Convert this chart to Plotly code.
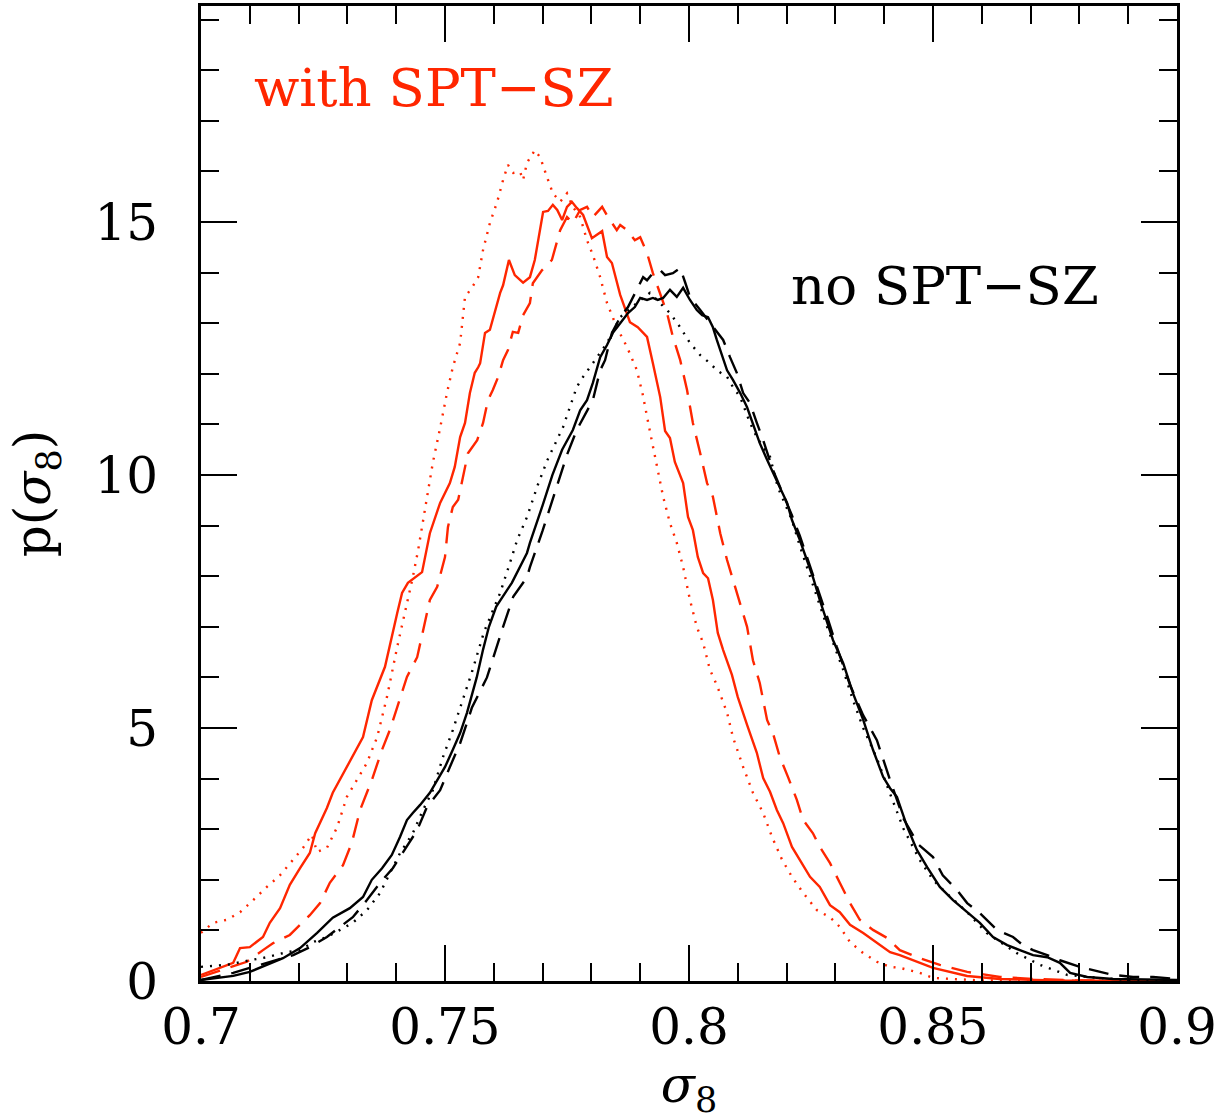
import plotly.graph_objects as go

# ---- data (sigma_8 vs posterior p(sigma_8)) ----
red_solid_x = [0.7000,0.7066,0.7080,0.7100,0.7127,0.7141,0.7162,0.7182,0.7203,0.7223,0.7234,0.7258,0.7270,0.7299,0.7320,0.7332,0.7350,0.7377,0.7402,0.7412,0.7424,0.7443,0.7453,0.7469,0.7490,0.7510,0.7520,0.7531,0.7541,0.7551,0.7561,0.7568,0.7572,0.7582,0.7592,0.7613,0.7619,0.7631,0.7643,0.7660,0.7674,0.7684,0.7695,0.7701,0.7711,0.7721,0.7730,0.7740,0.7750,0.7760,0.7770,0.7783,0.7801,0.7822,0.7832,0.7842,0.7859,0.7879,0.7895,0.7914,0.7926,0.7941,0.7951,0.7961,0.7971,0.7988,0.7998,0.8008,0.8018,0.8029,0.8039,0.8049,0.8059,0.8070,0.8088,0.8100,0.8119,0.8139,0.8152,0.8166,0.8180,0.8193,0.8211,0.8227,0.8248,0.8268,0.8289,0.8309,0.8330,0.8357,0.8385,0.8412,0.8432,0.8500,0.8570,0.8637,0.8750,0.9000]
red_solid_y = [0.12,0.36,0.65,0.67,0.87,1.15,1.44,1.90,2.23,2.53,2.92,3.42,3.72,4.23,4.58,4.82,5.55,6.21,7.27,7.67,7.87,8.02,8.08,8.85,9.45,9.84,10.16,10.75,11.03,11.62,12.02,12.13,12.21,12.81,12.87,13.60,13.75,14.25,13.95,13.80,13.91,14.25,14.84,15.20,15.22,15.34,15.24,15.04,15.30,15.40,15.28,15.14,14.68,14.82,14.31,14.19,13.56,13.02,12.92,12.73,12.21,11.54,10.87,10.73,10.26,9.84,9.17,8.91,8.38,8.06,7.96,7.53,6.88,6.54,6.05,5.61,5.06,4.51,4.01,3.74,3.38,3.12,2.65,2.39,2.06,1.86,1.50,1.36,1.11,0.95,0.75,0.57,0.51,0.26,0.10,0.04,0.01,0.00]

red_dot_x = [0.7000,0.7025,0.7053,0.7080,0.7107,0.7135,0.7162,0.7189,0.7209,0.7227,0.7238,0.7258,0.7279,0.7299,0.7322,0.7340,0.7361,0.7381,0.7402,0.7418,0.7434,0.7445,0.7463,0.7475,0.7490,0.7504,0.7516,0.7531,0.7541,0.7555,0.7568,0.7578,0.7592,0.7607,0.7619,0.7629,0.7640,0.7654,0.7660,0.7668,0.7684,0.7695,0.7709,0.7721,0.7736,0.7750,0.7762,0.7777,0.7791,0.7803,0.7818,0.7832,0.7852,0.7873,0.7893,0.7905,0.7920,0.7934,0.7947,0.7961,0.7975,0.7988,0.8002,0.8016,0.8029,0.8043,0.8057,0.8078,0.8090,0.8111,0.8131,0.8152,0.8170,0.8191,0.8211,0.8234,0.8262,0.8289,0.8309,0.8330,0.8357,0.8385,0.8412,0.8432,0.8473,0.8500,0.8600,0.9000]
red_dot_y = [0.95,1.15,1.21,1.36,1.60,1.86,2.09,2.39,2.63,2.89,2.55,2.63,3.04,3.64,4.03,4.31,4.82,5.61,6.60,7.27,7.98,8.52,9.51,10.24,10.93,11.62,12.13,12.61,13.52,13.70,13.91,14.45,14.98,15.40,15.83,16.13,15.97,15.99,15.83,16.17,16.42,16.28,15.89,15.57,15.40,15.57,15.30,15.10,14.64,14.35,13.91,13.40,12.92,12.53,12.08,11.60,10.86,10.16,9.57,9.05,8.66,8.18,7.53,7.00,6.68,6.15,5.85,5.30,4.82,4.23,3.72,3.32,2.85,2.39,2.06,1.74,1.40,1.26,1.07,0.77,0.55,0.38,0.28,0.26,0.16,0.06,0.01,0.00]

red_dash_x = [0.7000,0.7025,0.7066,0.7094,0.7127,0.7148,0.7182,0.7203,0.7223,0.7244,0.7264,0.7291,0.7309,0.7326,0.7350,0.7371,0.7387,0.7402,0.7422,0.7443,0.7455,0.7469,0.7484,0.7500,0.7506,0.7516,0.7527,0.7537,0.7547,0.7566,0.7578,0.7588,0.7598,0.7609,0.7619,0.7629,0.7639,0.7650,0.7660,0.7674,0.7680,0.7699,0.7719,0.7736,0.7750,0.7762,0.7777,0.7791,0.7803,0.7822,0.7834,0.7852,0.7859,0.7873,0.7889,0.7900,0.7914,0.7926,0.7941,0.7955,0.7967,0.7982,0.7996,0.8008,0.8023,0.8037,0.8049,0.8064,0.8078,0.8090,0.8105,0.8119,0.8131,0.8145,0.8152,0.8160,0.8172,0.8186,0.8203,0.8221,0.8234,0.8254,0.8268,0.8289,0.8309,0.8330,0.8350,0.8377,0.8406,0.8432,0.8473,0.8514,0.8570,0.8637,0.8705,0.8800,0.9000]
red_dash_y = [0.08,0.16,0.28,0.38,0.61,0.75,0.91,1.11,1.30,1.54,1.94,2.29,2.73,3.38,3.97,4.57,4.96,5.41,6.01,6.40,6.94,7.53,7.79,8.38,8.97,9.37,9.51,9.96,10.43,10.69,11.03,11.48,11.68,11.94,12.27,12.47,12.83,12.81,13.16,13.40,13.79,14.05,14.25,14.84,15.10,14.98,15.24,15.30,15.10,15.30,15.10,14.84,14.94,14.84,14.64,14.70,14.39,13.99,13.60,13.20,12.73,12.27,11.68,11.03,10.43,9.84,9.57,8.85,8.32,7.92,7.47,7.00,6.34,5.89,5.55,5.16,4.90,4.43,4.03,3.58,3.18,2.92,2.65,2.33,1.94,1.54,1.21,1.01,0.85,0.61,0.45,0.32,0.18,0.08,0.04,0.01,0.00]

black_solid_x = [0.7000,0.7039,0.7066,0.7100,0.7135,0.7168,0.7203,0.7238,0.7270,0.7305,0.7332,0.7350,0.7371,0.7391,0.7408,0.7422,0.7434,0.7449,0.7469,0.7484,0.7500,0.7516,0.7531,0.7545,0.7565,0.7578,0.7590,0.7605,0.7627,0.7637,0.7668,0.7674,0.7700,0.7720,0.7740,0.7762,0.7777,0.7791,0.7803,0.7818,0.7832,0.7844,0.7859,0.7875,0.7889,0.7900,0.7914,0.7926,0.7936,0.7947,0.7961,0.7975,0.7988,0.8002,0.8016,0.8027,0.8039,0.8049,0.8057,0.8068,0.8078,0.8090,0.8105,0.8119,0.8131,0.8145,0.8160,0.8172,0.8186,0.8201,0.8211,0.8227,0.8242,0.8254,0.8268,0.8283,0.8295,0.8316,0.8336,0.8357,0.8377,0.8398,0.8412,0.8426,0.8447,0.8467,0.8488,0.8514,0.8541,0.8570,0.8596,0.8623,0.8652,0.8678,0.8705,0.8734,0.8760,0.8781,0.8816,0.8869,0.9000]
black_solid_y = [0.02,0.06,0.10,0.18,0.32,0.45,0.65,0.95,1.25,1.44,1.66,2.00,2.23,2.49,2.85,3.18,3.32,3.48,3.72,3.97,4.23,4.57,4.90,5.30,6.00,6.55,7.00,7.40,7.73,7.87,8.46,8.66,9.40,10.00,10.50,10.89,11.28,11.48,11.82,12.33,12.57,12.81,13.00,13.20,13.32,13.50,13.46,13.50,13.46,13.50,13.66,13.52,13.70,13.46,13.26,13.16,13.12,12.92,12.67,12.33,12.07,11.88,11.62,11.34,11.03,10.63,10.30,10.04,9.76,9.45,9.11,8.72,8.32,7.98,7.53,7.08,6.74,6.28,5.69,5.16,4.57,4.03,3.81,3.64,3.05,2.59,2.25,1.86,1.60,1.36,1.15,0.87,0.71,0.61,0.51,0.47,0.36,0.16,0.08,0.04,0.02]

black_dash_x = [0.7000,0.7066,0.7135,0.7189,0.7223,0.7258,0.7285,0.7311,0.7340,0.7367,0.7393,0.7422,0.7443,0.7463,0.7490,0.7510,0.7531,0.7545,0.7555,0.7586,0.7605,0.7619,0.7640,0.7668,0.7674,0.7700,0.7730,0.7750,0.7770,0.7791,0.7803,0.7818,0.7828,0.7842,0.7859,0.7875,0.7893,0.7906,0.7914,0.7926,0.7941,0.7951,0.7967,0.7975,0.7982,0.7992,0.8002,0.8023,0.8039,0.8053,0.8070,0.8084,0.8098,0.8111,0.8125,0.8139,0.8152,0.8172,0.8190,0.8211,0.8227,0.8254,0.8283,0.8303,0.8330,0.8357,0.8385,0.8412,0.8440,0.8470,0.8500,0.8520,0.8549,0.8570,0.8596,0.8631,0.8664,0.8684,0.8705,0.8734,0.8760,0.8801,0.8842,0.8869,0.8910,0.8951,0.9000]
black_dash_y = [0.02,0.16,0.36,0.51,0.67,0.87,1.07,1.26,1.60,1.94,2.23,2.65,2.98,3.44,3.77,4.23,4.70,5.10,5.40,6.00,6.60,7.00,7.60,7.98,8.18,8.90,9.80,10.40,10.89,11.28,11.48,12.07,12.27,12.81,13.12,13.32,13.66,13.91,13.85,13.99,14.05,13.95,13.99,14.05,14.09,13.81,13.52,13.26,13.06,12.87,12.67,12.33,12.02,11.62,11.42,11.03,10.69,10.10,9.70,9.20,8.80,8.05,7.20,6.60,5.85,5.25,4.76,3.97,3.20,2.70,2.45,2.09,1.80,1.54,1.34,1.01,0.87,0.71,0.61,0.51,0.41,0.28,0.18,0.12,0.08,0.08,0.04]

black_dot_x = [0.7000,0.7053,0.7100,0.7135,0.7176,0.7203,0.7230,0.7258,0.7285,0.7311,0.7340,0.7367,0.7387,0.7408,0.7434,0.7455,0.7475,0.7496,0.7516,0.7531,0.7555,0.7580,0.7613,0.7633,0.7648,0.7668,0.7690,0.7710,0.7742,0.7770,0.7783,0.7803,0.7832,0.7859,0.7893,0.7920,0.7941,0.7961,0.7982,0.8002,0.8023,0.8043,0.8057,0.8078,0.8090,0.8105,0.8125,0.8139,0.8152,0.8166,0.8182,0.8201,0.8211,0.8227,0.8254,0.8283,0.8316,0.8336,0.8357,0.8385,0.8412,0.8440,0.8473,0.8500,0.8527,0.8570,0.8610,0.8672,0.8719,0.8775,0.8842,0.8900,0.9000]
black_dot_y = [0.28,0.32,0.41,0.47,0.57,0.61,0.77,0.87,1.01,1.15,1.40,1.74,2.13,2.53,2.92,3.38,3.77,4.43,4.96,5.41,6.10,6.90,7.67,8.26,8.72,9.17,9.80,10.30,10.95,11.74,11.94,12.21,12.61,13.12,13.40,13.60,13.40,13.20,12.92,12.61,12.37,12.21,12.07,11.94,11.74,11.54,11.03,10.75,10.55,10.36,9.76,9.31,9.11,8.60,7.85,7.00,6.15,5.55,5.00,4.40,3.70,3.00,2.39,2.00,1.74,1.36,0.95,0.55,0.32,0.12,0.06,0.02,0.01]

x_tickvals = [0.7, 0.75, 0.8, 0.85, 0.9]
x_ticktext = ["0.7", "0.75", "0.8", "0.85", "0.9"]
y_tickvals = [0, 5, 10, 15]
y_ticktext = ["0", "5", "10", "15"]

RED = "#ff2600"
FONT = "DejaVu Serif"

fig = go.Figure()

def add(x, y, color, dash):
    fig.add_trace(go.Scatter(x=x, y=y, mode="lines",
                             line=dict(color=color, width=2.4, dash=dash),
                             showlegend=False, hoverinfo="skip"))

add(red_dot_x, red_dot_y, RED, "2px,7px")
add(red_dash_x, red_dash_y, RED, "20px,11px")
add(red_solid_x, red_solid_y, RED, "solid")
add(black_dot_x, black_dot_y, "black", "2px,7px")
add(black_dash_x, black_dash_y, "black", "20px,11px")
add(black_solid_x, black_solid_y, "black", "solid")

fig.add_annotation(x=0.7105, y=17.65, xref="x", yref="y", text="with SPT\u2212SZ",
                   showarrow=False, xanchor="left", yanchor="middle",
                   font=dict(family=FONT, size=53, color=RED))
fig.add_annotation(x=0.8205, y=13.75, xref="x", yref="y", text="no SPT\u2212SZ",
                   showarrow=False, xanchor="left", yanchor="middle",
                   font=dict(family=FONT, size=53, color="black"))

axis_common = dict(showgrid=False, zeroline=False, showline=True, linecolor="black",
                   linewidth=3, mirror="ticks", ticks="inside", tickcolor="black",
                   tickwidth=2, ticklen=36,
                   tickfont=dict(family=FONT, size=50, color="black"))

fig.update_xaxes(range=[0.7, 0.9], tickvals=x_tickvals, ticktext=x_ticktext,
                 minor=dict(dtick=0.01, tick0=0.7, ticks="inside", ticklen=18,
                            tickwidth=2, tickcolor="black"),
                 title=dict(text="<i>σ</i><sub>8</sub>", standoff=18,
                            font=dict(family=FONT, size=50, color="black")),
                 **axis_common)
fig.update_yaxes(range=[0, 19.27], tickvals=y_tickvals, ticktext=y_ticktext,
                 minor=dict(dtick=1, tick0=0, ticks="inside", ticklen=18,
                            tickwidth=2, tickcolor="black"),
                 ticklabelstandoff=30,
                 title=dict(text="p(<i>σ</i><sub>8</sub>)", standoff=28,
                            font=dict(family=FONT, size=50, color="black")),
                 **axis_common)

fig.update_layout(width=1225, height=1120, autosize=False,
                  margin=dict(l=201, r=48, t=6, b=139, autoexpand=False),
                  plot_bgcolor="white", paper_bgcolor="white")

fig.write_html("out.html", config={"displayModeBar": False},
               post_script="document.body.style.margin='0px';document.body.style.padding='0px';document.body.style.overflow='hidden';")
